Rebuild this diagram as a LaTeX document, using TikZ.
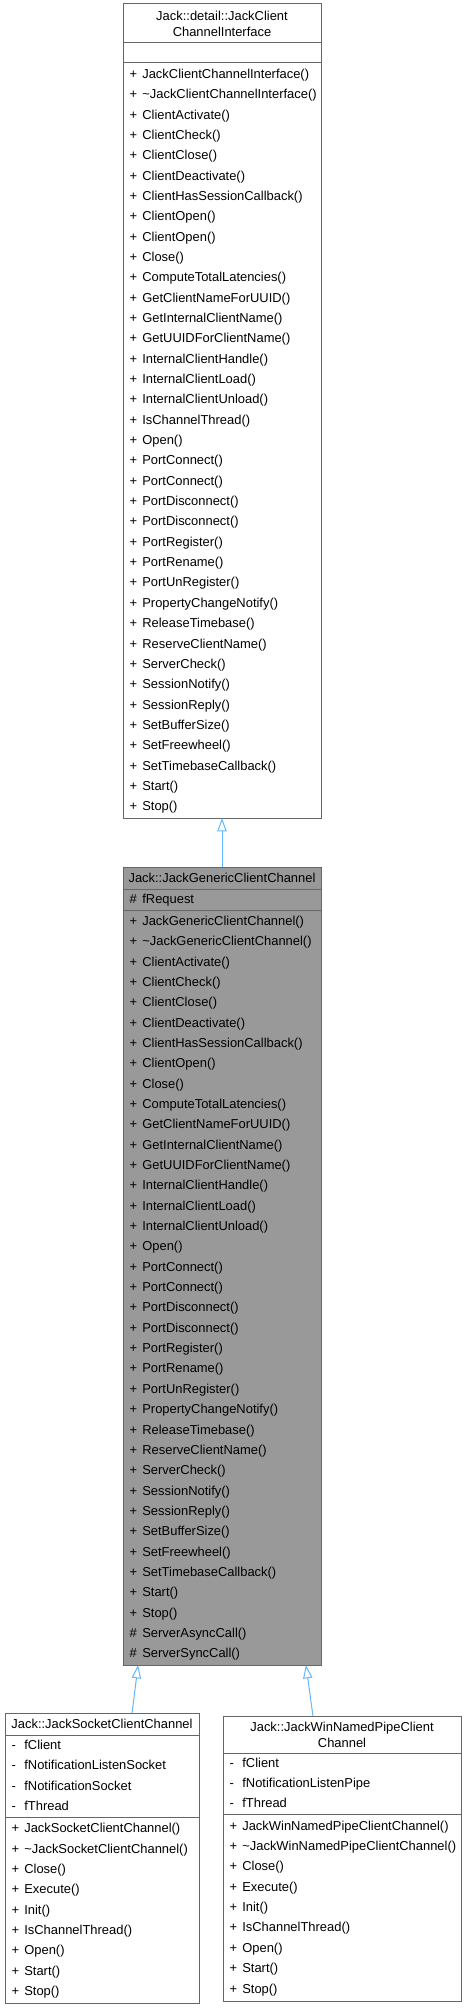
\documentclass[tikz,border=0pt]{standalone}
\usepackage{fontspec}
\setmainfont{Liberation Sans}
\usetikzlibrary{arrows.meta, positioning, calc}

\definecolor{boxline}{HTML}{666666}
\definecolor{selfill}{HTML}{999999}
\definecolor{edgeblue}{HTML}{63B8FF}

\newlength\symw
\setlength\symw{9.5pt}
\newcommand\mrow[2]{\makebox[\symw][l]{#1}#2\strut}
\newcommand\dtor{\textasciitilde}

\begin{document}
\begin{tikzpicture}[
    x=0.75pt, y=-0.75pt,
    node distance=0pt,
    classtitle/.style={rectangle, draw=boxline, line width=0.75pt, fill=white, align=center, inner sep=0pt, outer sep=0pt, font=\fontsize{9.7pt}{12pt}\selectfont},
    classpart/.style={rectangle, draw=boxline, line width=0.75pt, fill=white, align=left, text width=#1, inner xsep=5pt, inner ysep=0pt, outer sep=0pt, font=\fontsize{9.7pt}{15.26pt}\selectfont},
    selnode/.style={fill=selfill},
    inheritarrow/.style={-{Triangle[open, length=10pt, width=7pt, fill=white]}, draw=edgeblue, line width=0.75pt}
]
\useasboundingbox (0,0) rectangle (466,2008);

% Base interface
\node[classtitle, minimum width=148.5pt, minimum height=29.25pt, anchor=north west] (ifacetitle) at (123,4) {Jack::detail::JackClient\\ChannelInterface};
\node[classpart=138.5pt, minimum height=15pt, below=of ifacetitle] (ifaceattr) {};
\node[classpart=138.5pt, minimum height=566.25pt, below=of ifaceattr] (ifacemeth) {%
\mrow{+}{JackClientChannelInterface()}\\
\mrow{+}{\dtor JackClientChannelInterface()}\\
\mrow{+}{ClientActivate()}\\
\mrow{+}{ClientCheck()}\\
\mrow{+}{ClientClose()}\\
\mrow{+}{ClientDeactivate()}\\
\mrow{+}{ClientHasSessionCallback()}\\
\mrow{+}{ClientOpen()}\\
\mrow{+}{ClientOpen()}\\
\mrow{+}{Close()}\\
\mrow{+}{ComputeTotalLatencies()}\\
\mrow{+}{GetClientNameForUUID()}\\
\mrow{+}{GetInternalClientName()}\\
\mrow{+}{GetUUIDForClientName()}\\
\mrow{+}{InternalClientHandle()}\\
\mrow{+}{InternalClientLoad()}\\
\mrow{+}{InternalClientUnload()}\\
\mrow{+}{IsChannelThread()}\\
\mrow{+}{Open()}\\
\mrow{+}{PortConnect()}\\
\mrow{+}{PortConnect()}\\
\mrow{+}{PortDisconnect()}\\
\mrow{+}{PortDisconnect()}\\
\mrow{+}{PortRegister()}\\
\mrow{+}{PortRename()}\\
\mrow{+}{PortUnRegister()}\\
\mrow{+}{PropertyChangeNotify()}\\
\mrow{+}{ReleaseTimebase()}\\
\mrow{+}{ReserveClientName()}\\
\mrow{+}{ServerCheck()}\\
\mrow{+}{SessionNotify()}\\
\mrow{+}{SessionReply()}\\
\mrow{+}{SetBufferSize()}\\
\mrow{+}{SetFreewheel()}\\
\mrow{+}{SetTimebaseCallback()}\\
\mrow{+}{Start()}\\
\mrow{+}{Stop()}};

% Generic channel (selected)
\node[classtitle, selnode, minimum width=148.5pt, minimum height=16.5pt, below=36.75pt of ifacemeth] (generictitle) {Jack::JackGenericClientChannel};
\node[classpart=138.5pt, selnode, minimum height=15.75pt, below=of generictitle] (genericattr) {\mrow{\#}{fRequest}};
\node[classpart=138.5pt, selnode, minimum height=566.25pt, below=of genericattr] (genericmeth) {%
\mrow{+}{JackGenericClientChannel()}\\
\mrow{+}{\dtor JackGenericClientChannel()}\\
\mrow{+}{ClientActivate()}\\
\mrow{+}{ClientCheck()}\\
\mrow{+}{ClientClose()}\\
\mrow{+}{ClientDeactivate()}\\
\mrow{+}{ClientHasSessionCallback()}\\
\mrow{+}{ClientOpen()}\\
\mrow{+}{Close()}\\
\mrow{+}{ComputeTotalLatencies()}\\
\mrow{+}{GetClientNameForUUID()}\\
\mrow{+}{GetInternalClientName()}\\
\mrow{+}{GetUUIDForClientName()}\\
\mrow{+}{InternalClientHandle()}\\
\mrow{+}{InternalClientLoad()}\\
\mrow{+}{InternalClientUnload()}\\
\mrow{+}{Open()}\\
\mrow{+}{PortConnect()}\\
\mrow{+}{PortConnect()}\\
\mrow{+}{PortDisconnect()}\\
\mrow{+}{PortDisconnect()}\\
\mrow{+}{PortRegister()}\\
\mrow{+}{PortRename()}\\
\mrow{+}{PortUnRegister()}\\
\mrow{+}{PropertyChangeNotify()}\\
\mrow{+}{ReleaseTimebase()}\\
\mrow{+}{ReserveClientName()}\\
\mrow{+}{ServerCheck()}\\
\mrow{+}{SessionNotify()}\\
\mrow{+}{SessionReply()}\\
\mrow{+}{SetBufferSize()}\\
\mrow{+}{SetFreewheel()}\\
\mrow{+}{SetTimebaseCallback()}\\
\mrow{+}{Start()}\\
\mrow{+}{Stop()}\\
\mrow{\#}{ServerAsyncCall()}\\
\mrow{\#}{ServerSyncCall()}};

% Socket channel
\node[classtitle, minimum width=145.5pt, minimum height=16.5pt, anchor=north west] (sockettitle) at (5,1713) {Jack::JackSocketClientChannel};
\node[classpart=135.5pt, minimum height=61.5pt, below=of sockettitle] (socketattr) {%
\mrow{-}{fClient}\\
\mrow{-}{fNotificationListenSocket}\\
\mrow{-}{fNotificationSocket}\\
\mrow{-}{fThread}};
\node[classpart=135.5pt, minimum height=139.5pt, below=of socketattr] (socketmeth) {%
\mrow{+}{JackSocketClientChannel()}\\
\mrow{+}{\dtor JackSocketClientChannel()}\\
\mrow{+}{Close()}\\
\mrow{+}{Execute()}\\
\mrow{+}{Init()}\\
\mrow{+}{IsChannelThread()}\\
\mrow{+}{Open()}\\
\mrow{+}{Start()}\\
\mrow{+}{Stop()}};

% Named pipe channel
\node[classtitle, minimum width=178.5pt, minimum height=27.75pt, anchor=north west] (pipetitle) at (223,1716) {Jack::JackWinNamedPipeClient\\Channel};
\node[classpart=168.5pt, minimum height=45.75pt, below=of pipetitle] (pipeattr) {%
\mrow{-}{fClient}\\
\mrow{-}{fNotificationListenPipe}\\
\mrow{-}{fThread}};
\node[classpart=168.5pt, minimum height=140.25pt, below=of pipeattr] (pipemeth) {%
\mrow{+}{JackWinNamedPipeClientChannel()}\\
\mrow{+}{\dtor JackWinNamedPipeClientChannel()}\\
\mrow{+}{Close()}\\
\mrow{+}{Execute()}\\
\mrow{+}{Init()}\\
\mrow{+}{IsChannelThread()}\\
\mrow{+}{Open()}\\
\mrow{+}{Start()}\\
\mrow{+}{Stop()}};

% Inheritance
\draw[inheritarrow] (generictitle.north) -- (ifacemeth.south);
\draw[inheritarrow] ($(sockettitle.north west)!0.655!(sockettitle.north east)$) -- ($(genericmeth.south west)!0.076!(genericmeth.south east)$);
\draw[inheritarrow] ($(pipetitle.north west)!0.378!(pipetitle.north east)$) -- ($(genericmeth.south west)!0.924!(genericmeth.south east)$);

\end{tikzpicture}
\end{document}
